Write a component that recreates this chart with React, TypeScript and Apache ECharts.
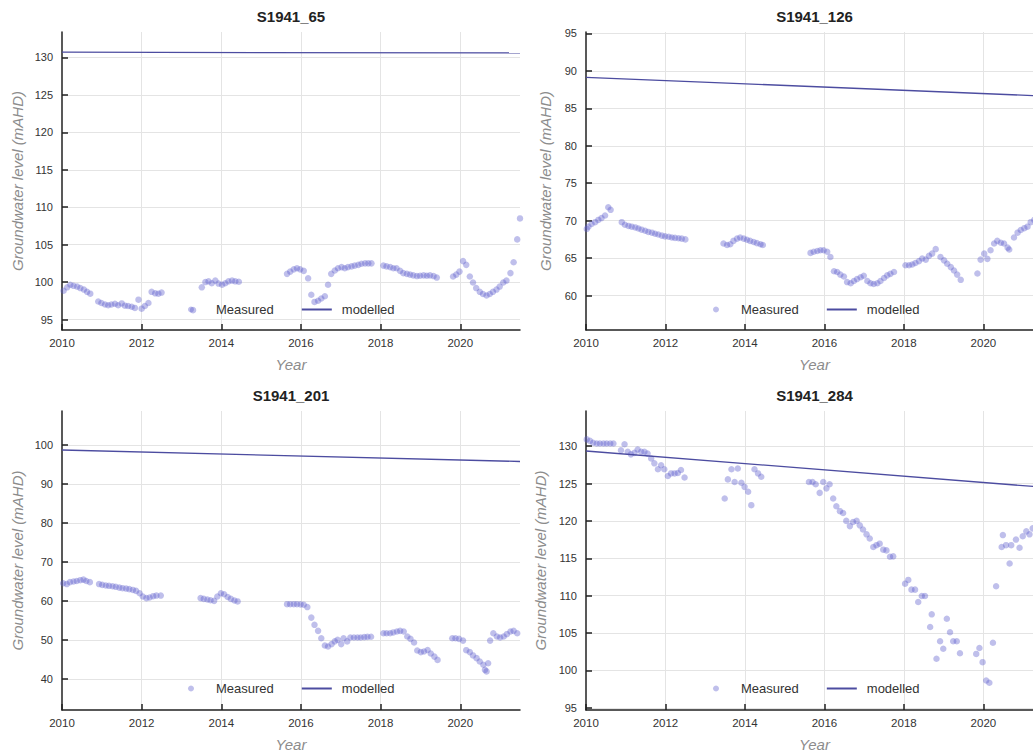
import React, { useEffect, useRef } from 'react';
import * as echarts from 'echarts';

const wellNames = ['S1941_65', 'S1941_126', 'S1941_201', 'S1941_284'];
const legendNames = ['Measured', 'modelled'];
const xTicks = [2010, 2012, 2014, 2016, 2018, 2020];
const xMin = 2010;
const xMax = 2021.5;

const yMins = [93.6, 55.4, 32, 94.7];
const yMaxs = [133.4, 95.2, 108.7, 134.7];
const ySteps = [5, 5, 10, 5];

const measured65: [number, number][] = [
  [2010.04, 98.85], [2010.13, 99.3], [2010.21, 99.65], [2010.29, 99.5], [2010.38, 99.4], [2010.46, 99.2],
  [2010.55, 99.0], [2010.63, 98.7], [2010.71, 98.45], [2010.91, 97.4], [2010.99, 97.2], [2011.08, 97.0],
  [2011.16, 96.9], [2011.24, 97.0], [2011.33, 97.1], [2011.41, 96.9], [2011.5, 97.15], [2011.58, 96.85],
  [2011.66, 96.8], [2011.75, 96.7], [2011.83, 96.55], [2011.92, 97.65], [2012.0, 96.45], [2012.08, 96.8],
  [2012.17, 97.2], [2012.25, 98.7], [2012.34, 98.5], [2012.42, 98.45], [2012.5, 98.6], [2013.29, 96.25],
  [2013.51, 99.3], [2013.6, 100.0], [2013.68, 100.1], [2013.76, 99.85], [2013.85, 100.2], [2013.93, 99.8],
  [2014.02, 99.65], [2014.1, 99.85], [2014.18, 100.1], [2014.27, 100.2], [2014.35, 100.1], [2014.44, 100.05],
  [2015.65, 101.1], [2015.73, 101.4], [2015.82, 101.7], [2015.9, 101.85], [2015.98, 101.7], [2016.07, 101.5],
  [2016.18, 100.5], [2016.26, 98.3], [2016.34, 97.35], [2016.43, 97.5], [2016.51, 97.8], [2016.6, 98.1],
  [2016.68, 99.65], [2016.76, 101.1], [2016.85, 101.55], [2016.93, 101.85], [2017.02, 102.0], [2017.1, 101.85],
  [2017.18, 102.0], [2017.27, 102.1], [2017.35, 102.2], [2017.44, 102.3], [2017.52, 102.45], [2017.61, 102.5],
  [2017.69, 102.5], [2017.77, 102.5], [2018.07, 102.2], [2018.15, 102.1], [2018.24, 102.0], [2018.32, 101.85],
  [2018.4, 101.85], [2018.49, 101.5], [2018.57, 101.2], [2018.66, 101.1], [2018.74, 101.0], [2018.82, 100.9],
  [2018.91, 100.8], [2018.99, 100.85], [2019.08, 100.9], [2019.16, 100.85], [2019.24, 100.9], [2019.33, 100.8],
  [2019.41, 100.6], [2019.82, 100.75], [2019.9, 101.0], [2019.98, 101.4], [2020.07, 102.8], [2020.15, 102.3],
  [2020.24, 100.75], [2020.32, 99.95], [2020.4, 99.2], [2020.49, 98.7], [2020.57, 98.4], [2020.66, 98.2],
  [2020.74, 98.4], [2020.82, 98.7], [2020.91, 99.0], [2020.99, 99.4], [2021.08, 99.95], [2021.16, 100.2],
  [2021.26, 101.2], [2021.34, 102.65], [2021.43, 105.7], [2021.5, 108.5],
];

const measured126: [number, number][] = [
  [2010.02, 68.9], [2010.06, 69.2], [2010.14, 69.55], [2010.23, 69.8], [2010.31, 70.1], [2010.39, 70.35],
  [2010.48, 70.7], [2010.56, 71.8], [2010.62, 71.45], [2010.9, 69.8], [2010.98, 69.45], [2011.07, 69.3],
  [2011.15, 69.2], [2011.24, 69.1], [2011.32, 68.95], [2011.4, 68.8], [2011.49, 68.65], [2011.57, 68.5],
  [2011.66, 68.4], [2011.74, 68.25], [2011.82, 68.15], [2011.91, 68.0], [2011.99, 67.9], [2012.08, 67.85],
  [2012.16, 67.75], [2012.24, 67.7], [2012.33, 67.65], [2012.41, 67.6], [2012.5, 67.5], [2013.46, 66.95],
  [2013.55, 66.75], [2013.63, 66.85], [2013.71, 67.3], [2013.8, 67.6], [2013.88, 67.75], [2013.97, 67.6],
  [2014.05, 67.45], [2014.13, 67.3], [2014.22, 67.15], [2014.3, 67.0], [2014.39, 66.85], [2014.45, 66.75],
  [2015.65, 65.7], [2015.73, 65.85], [2015.82, 65.95], [2015.9, 66.05], [2015.98, 66.05], [2016.07, 65.85],
  [2016.15, 65.15], [2016.24, 63.25], [2016.32, 63.15], [2016.4, 62.8], [2016.49, 62.55], [2016.57, 61.8],
  [2016.66, 61.65], [2016.74, 61.95], [2016.82, 62.2], [2016.91, 62.45], [2016.99, 62.65], [2017.08, 61.95],
  [2017.16, 61.65], [2017.24, 61.55], [2017.33, 61.65], [2017.41, 61.95], [2017.5, 62.35], [2017.58, 62.7],
  [2017.66, 62.9], [2017.75, 63.15], [2018.04, 64.05], [2018.13, 64.05], [2018.21, 64.15], [2018.29, 64.35],
  [2018.38, 64.6], [2018.46, 64.95], [2018.55, 64.8], [2018.63, 65.3], [2018.71, 65.6], [2018.8, 66.2],
  [2018.92, 65.15], [2019.01, 64.7], [2019.09, 64.25], [2019.18, 63.8], [2019.26, 63.35], [2019.34, 62.8],
  [2019.43, 62.1], [2019.85, 62.95], [2019.93, 64.8], [2020.02, 65.6], [2020.1, 64.9], [2020.18, 66.05],
  [2020.27, 66.95], [2020.35, 67.3], [2020.44, 67.05], [2020.52, 66.95], [2020.61, 66.4], [2020.65, 66.15],
  [2020.77, 67.75], [2020.86, 68.4], [2020.94, 68.75], [2021.03, 69.0], [2021.11, 69.2], [2021.19, 69.8],
  [2021.28, 70.1], [2021.36, 70.6], [2021.45, 71.0],
];

const measured201: [number, number][] = [
  [2010.03, 64.5], [2010.12, 64.3], [2010.2, 64.8], [2010.29, 64.95], [2010.37, 65.1], [2010.46, 65.3],
  [2010.54, 65.45], [2010.61, 65.1], [2010.7, 64.8], [2010.93, 64.3], [2011.01, 64.1], [2011.1, 63.95],
  [2011.18, 63.85], [2011.27, 63.75], [2011.35, 63.6], [2011.44, 63.4], [2011.52, 63.25], [2011.61, 63.15],
  [2011.69, 63.0], [2011.78, 62.8], [2011.86, 62.55], [2011.95, 61.95], [2012.03, 61.1], [2012.12, 60.7],
  [2012.2, 60.85], [2012.29, 61.2], [2012.37, 61.35], [2012.48, 61.35], [2013.48, 60.7], [2013.56, 60.5],
  [2013.65, 60.35], [2013.73, 60.15], [2013.82, 60.0], [2013.9, 61.1], [2013.99, 61.95], [2014.07, 61.7],
  [2014.16, 61.0], [2014.24, 60.5], [2014.33, 60.1], [2014.41, 59.85], [2015.65, 59.15], [2015.73, 59.15],
  [2015.82, 59.15], [2015.9, 59.15], [2015.99, 59.1], [2016.07, 59.0], [2016.16, 58.4], [2016.26, 55.7],
  [2016.34, 53.85], [2016.43, 52.3], [2016.51, 50.4], [2016.6, 48.55], [2016.68, 48.3], [2016.77, 48.9],
  [2016.85, 49.6], [2016.92, 50.0], [2017.01, 48.9], [2017.07, 50.4], [2017.16, 49.6], [2017.24, 50.6],
  [2017.33, 50.6], [2017.42, 50.6], [2017.5, 50.6], [2017.59, 50.7], [2017.67, 50.75], [2017.76, 50.8],
  [2018.07, 51.7], [2018.15, 51.7], [2018.24, 51.7], [2018.32, 51.9], [2018.41, 52.15], [2018.49, 52.3],
  [2018.58, 52.15], [2018.67, 50.85], [2018.75, 50.25], [2018.84, 49.3], [2018.92, 47.25], [2019.01, 46.85],
  [2019.09, 47.0], [2019.18, 47.4], [2019.26, 46.5], [2019.35, 45.7], [2019.43, 44.85], [2019.8, 50.4],
  [2019.88, 50.4], [2019.97, 50.25], [2020.07, 49.8], [2020.15, 47.35], [2020.24, 46.85], [2020.32, 46.0],
  [2020.41, 45.3], [2020.49, 44.45], [2020.58, 43.6], [2020.62, 42.3], [2020.66, 41.9], [2020.7, 44.0],
  [2020.75, 49.8], [2020.83, 51.7], [2020.92, 50.85], [2021.0, 50.6], [2021.09, 50.85], [2021.17, 51.45],
  [2021.26, 52.15], [2021.34, 52.3], [2021.43, 51.7],
];

const measured284: [number, number][] = [
  [2010.02, 130.9], [2010.1, 130.7], [2010.18, 130.45], [2010.27, 130.35], [2010.35, 130.35], [2010.44, 130.35],
  [2010.52, 130.35], [2010.61, 130.35], [2010.69, 130.35], [2010.88, 129.45], [2010.97, 130.25], [2011.05, 129.25],
  [2011.13, 128.9], [2011.22, 129.1], [2011.3, 129.55], [2011.39, 129.25], [2011.47, 129.25], [2011.55, 129.0],
  [2011.64, 128.35], [2011.72, 127.7], [2011.81, 126.9], [2011.89, 127.45], [2011.97, 126.9], [2012.06, 126.0],
  [2012.14, 126.35], [2012.23, 126.35], [2012.31, 126.4], [2012.39, 126.8], [2012.48, 125.8], [2013.49, 123.0],
  [2013.57, 125.55], [2013.66, 126.9], [2013.74, 125.2], [2013.82, 127.0], [2013.91, 125.1], [2013.99, 124.55],
  [2014.08, 123.9], [2014.16, 122.1], [2014.24, 126.9], [2014.33, 126.35], [2014.41, 125.9], [2015.61, 125.2],
  [2015.7, 125.2], [2015.78, 124.9], [2015.88, 123.75], [2015.97, 125.2], [2016.05, 124.35], [2016.13, 124.9],
  [2016.22, 123.0], [2016.3, 121.95], [2016.39, 121.3], [2016.47, 121.05], [2016.55, 120.0], [2016.64, 119.3],
  [2016.72, 119.85], [2016.81, 120.0], [2016.89, 119.4], [2016.97, 118.85], [2017.06, 118.2], [2017.14, 117.65],
  [2017.23, 116.5], [2017.31, 116.75], [2017.39, 116.95], [2017.48, 116.15], [2017.56, 116.05], [2017.65, 115.2],
  [2017.73, 115.25], [2018.03, 111.6], [2018.11, 112.1], [2018.19, 110.8], [2018.28, 110.8], [2018.36, 109.15],
  [2018.45, 109.95], [2018.53, 109.95], [2018.66, 105.8], [2018.7, 107.5], [2018.82, 101.55], [2018.91, 103.9],
  [2018.99, 102.9], [2019.08, 106.9], [2019.16, 105.1], [2019.24, 103.9], [2019.33, 103.9], [2019.41, 102.3],
  [2019.82, 102.2], [2019.9, 103.0], [2019.98, 101.1], [2020.07, 98.65], [2020.15, 98.35], [2020.24, 103.7],
  [2020.32, 111.25], [2020.46, 116.5], [2020.49, 118.1], [2020.57, 116.75], [2020.66, 114.3], [2020.7, 116.75],
  [2020.82, 117.5], [2020.91, 116.4], [2020.99, 117.95], [2021.08, 118.6], [2021.16, 118.2], [2021.24, 119.0],
  [2021.33, 119.3], [2021.42, 119.8],
];

const modelled65: [number, number][] = [[2010, 130.7], [2021.5, 130.6]];
const modelled126: [number, number][] = [[2010, 89.15], [2021.5, 86.65]];
const modelled201: [number, number][] = [[2010, 98.7], [2021.5, 95.75]];
const modelled284: [number, number][] = [[2010, 129.35], [2021.5, 124.5]];

const measuredSets = [measured65, measured126, measured201, measured284];
const modelledSets = [modelled65, modelled126, modelled201, modelled284];

export default function App() {
  const ref = useRef<HTMLDivElement>(null);

  useEffect(() => {
    if (!ref.current) return;
    const chart = echarts.init(ref.current, undefined, { renderer: 'svg' });

    const grids = [
      { left: 62, top: 32, width: 458, height: 298 },
      { left: 586, top: 32, width: 457, height: 298 },
      { left: 62, top: 411, width: 458, height: 299 },
      { left: 586, top: 411, width: 457, height: 299 },
    ];
    const yNameGaps = [37, 33, 37, 38];
    const titleTops = [9, 9, 388, 388];
    const legendPos = [
      { left: 188, top: 303 },
      { left: 713, top: 303 },
      { left: 188, top: 682 },
      { left: 713, top: 682 },
    ];
    const axisColor = '#222';
    const gridColor = '#e4e4e4';
    const nameStyle = { color: '#8c8c8c', fontSize: 15, fontStyle: 'italic' as const };

    const option: any = {
      animation: false,
      backgroundColor: '#fff',
      textStyle: { fontFamily: 'Liberation Sans, Arial, sans-serif' },
      title: grids.map((g, i) => ({
        text: wellNames[i],
        left: g.left + g.width / 2,
        top: titleTops[i],
        textAlign: 'center',
        padding: 0,
        textStyle: { fontSize: 15, fontWeight: 'bold', color: '#222' },
      })),
      legend: grids.map((g, i) => ({
        data: [
          { name: legendNames[0] },
          { name: legendNames[1], itemStyle: { opacity: 0 } },
        ],
        left: legendPos[i].left,
        top: legendPos[i].top,
        padding: 0,
        itemWidth: 30,
        itemHeight: 6,
        itemGap: 27,
        selectedMode: false,
        textStyle: { color: '#333', fontSize: 13, padding: [0, 0, 0, 5] },
      })),
      grid: grids.map((g) => ({ ...g, outerBoundsMode: 'none', containLabel: false })),
      xAxis: grids.map((g, i) => ({
        type: 'value',
        gridIndex: i,
        min: xMin,
        max: xMax,
        minInterval: 2,
        maxInterval: 2,
        name: 'Year',
        nameLocation: 'middle',
        nameGap: 27,
        nameTextStyle: nameStyle,
        axisLine: { show: true, onZero: false, lineStyle: { color: axisColor, width: 1.5 } },
        axisTick: { show: true, inside: true, length: 6, customValues: xTicks, lineStyle: { color: axisColor, width: 1.5 } },
        axisLabel: {
          color: '#333',
          fontSize: 11.5,
          margin: 7,
          customValues: xTicks,
          formatter: (v: number) => (Number.isInteger(v) ? String(v) : ''),
        },
        splitLine: { show: true, showMinLine: false, showMaxLine: true, lineStyle: { color: gridColor, width: 1 } },
      })),
      yAxis: grids.map((g, i) => {
        const step = ySteps[i];
        const ticks: number[] = [];
        for (let v = Math.ceil(yMins[i] / step) * step; v <= yMaxs[i] + 1e-9; v += step) ticks.push(v);
        return {
          type: 'value',
          gridIndex: i,
          min: yMins[i],
          max: yMaxs[i],
          minInterval: step,
          maxInterval: step,
          name: 'Groundwater level (mAHD)',
          nameLocation: 'middle',
          nameGap: yNameGaps[i],
          nameTextStyle: nameStyle,
          axisLine: { show: true, onZero: false, lineStyle: { color: axisColor, width: 1.5 } },
          axisTick: { show: true, inside: true, length: 6, customValues: ticks, lineStyle: { color: axisColor, width: 1.5 } },
          axisLabel: {
            color: '#333',
            fontSize: 11,
            margin: 9,
            customValues: ticks,
            formatter: (v: number) => (Math.abs(v / step - Math.round(v / step)) < 1e-6 ? String(Math.round(v)) : ''),
          },
          splitLine: { show: true, showMinLine: true, showMaxLine: true, lineStyle: { color: gridColor, width: 1 } },
        };
      }),
      series: [
        ...measuredSets.map((d, i) => ({
          name: 'Measured',
          type: 'scatter',
          xAxisIndex: i,
          yAxisIndex: i,
          data: d,
          symbol: 'circle',
          symbolSize: 6.5,
          itemStyle: { color: 'rgba(96, 96, 206, 0.5)' },
        })),
        ...modelledSets.map((d, i) => ({
          name: 'modelled',
          type: 'line',
          xAxisIndex: i,
          yAxisIndex: i,
          data: d,
          symbol: 'none',
          showSymbol: false,
          lineStyle: { color: '#4c4ca0', width: 1.3 },
          itemStyle: { color: '#4c4ca0' },
        })),
      ],
    };

    chart.setOption(option);
    return () => chart.dispose();
  }, []);

  return (
    <div
      ref={ref}
      style={{ position: 'fixed', left: 0, top: 0, width: 1033, height: 753, background: '#fff' }}
    />
  );
}
